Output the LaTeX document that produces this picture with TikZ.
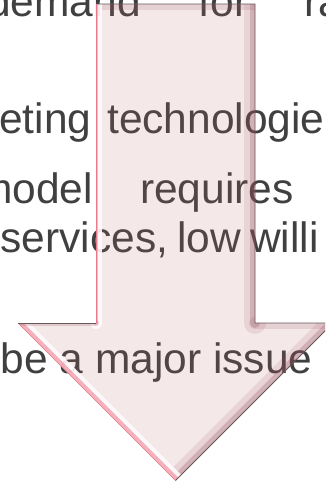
\documentclass[tikz,border=0pt]{standalone}
\usepackage{fontspec}
\setmainfont{Liberation Sans}
\definecolor{textgray}{RGB}{64,64,64}
\definecolor{arrowpink}{RGB}{190,100,110}
\definecolor{bevellight}{RGB}{255,250,252}
\definecolor{beveldark}{RGB}{140,70,82}
\definecolor{bevelred}{RGB}{235,120,140}
\definecolor{rimgray}{RGB}{100,88,90}

\tikzstyle{word}=[anchor=base west,inner sep=0pt,text=textgray,font=\fontsize{42.5}{50}\selectfont]
\tikzstyle{bevel}=[line cap=round,line join=round]

\begin{document}
\begin{tikzpicture}[x=1pt,y=1pt]
	\useasboundingbox (0,0) rectangle (325,-482);
	\clip (0,0) rectangle (325,-482);
	% First the text lines behind the arrow
	\foreach \name/\x/\y/\txt in {demand/-13/-16/demand, for/198.5/-16/for, ra/304/-16/ra,
			eting/-1/-133/eting, technologie/107/-133/technologie,
			model/-23/-203/model, requires/140/-203/requires,
			services/0.5/-252/{services,}, low/177/-252/low, willi/250/-252/willi,
			issue/0.5/-373/be a major issue}
		\node[word] (\name) at (\x,\y) {\txt};
	% Corners of the arrow
	\coordinate (tl) at (96,-4);
	\coordinate (tr) at (255,-4);
	\coordinate (sr) at (255,-323);
	\coordinate (hr) at (333,-323);
	\coordinate (tip) at (175.5,-480.5);
	\coordinate (hl) at (18,-323);
	\coordinate (sl) at (96,-323);
	% Body of the arrow
	\fill[arrowpink,fill opacity=0.15] (tl) -- (tr) -- (sr) -- (hr) -- (tip) -- (hl) -- (sl) -- cycle;
	% Bevel along the edges
	\begin{scope}
		\clip (tl) -- (tr) -- (sr) -- (hr) -- (tip) -- (hl) -- (sl) -- cycle;
		\draw[bevel,beveldark,opacity=0.12,line width=22pt] (tr) -- (sr) (hr) -- (tip);
		\draw[bevel,beveldark,opacity=0.25,line width=10pt] (tr) -- (sr) (hr) -- (tip);
		\draw[bevel,beveldark,opacity=0.15,line width=12pt] (tl) -- (tr) (sr) -- (hr);
		\draw[bevel,bevellight,opacity=0.9,line width=16pt] (tip) -- (hl);
		\draw[bevel,bevelred,opacity=0.55,line width=8pt] (tip) -- (hl);
		\draw[bevel,bevellight,opacity=0.9,line width=12pt] (sl) -- (tl);
		\draw[bevel,bevelred,opacity=0.45,line width=4pt] (sl) -- (tl);
		\draw[bevel,beveldark,opacity=0.2,line width=6pt] (hl) -- (sl);
	\end{scope}
	% Rim of the arrow
	\draw[rimgray,line width=0.8pt,line join=miter] (tl) -- (tr) -- (sr) -- (hr) -- (tip);
	\draw[bevelred,line width=0.6pt] (tip) -- (hl);
	\draw[rimgray,line width=0.6pt] (hl) -- (sl);
	\draw[bevelred,line width=0.6pt] (sl) -- (tl);
\end{tikzpicture}
\end{document}
